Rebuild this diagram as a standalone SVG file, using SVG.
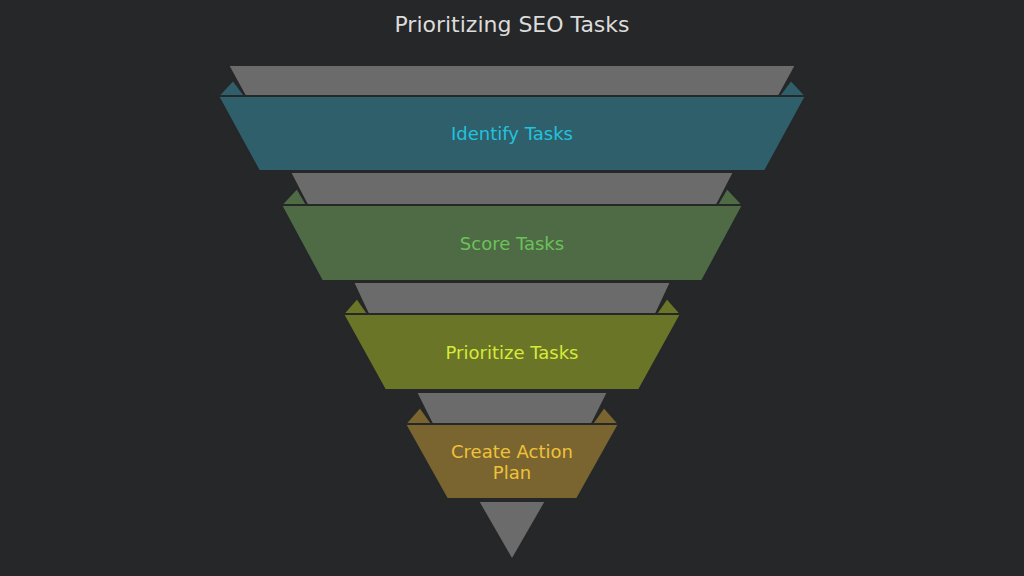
<svg xmlns="http://www.w3.org/2000/svg" width="1024" height="576" viewBox="0 0 1024 576">
<style>
.bg{fill:#262728}
.back{fill:#6b6b6b;stroke:#262728;stroke-width:2;stroke-linejoin:round}
.band{stroke:#262728;stroke-width:2;stroke-linejoin:round}
.lbl{font-family:"DejaVu Sans","Liberation Sans",sans-serif;font-size:18px;text-anchor:middle}
.title{font-family:"DejaVu Sans","Liberation Sans",sans-serif;font-size:22px;text-anchor:middle;fill:#dcdcdc}
</style>
<rect class="bg" width="1024" height="576"/>
<text class="title" x="512" y="32">Prioritizing SEO Tasks</text>
<g id="node1">
<polygon class="back" points="228,65 796,65 779,96 245,96"/>
<polygon class="band" fill="#2f5f6a" points="218,96 233,80 245,96"/>
<polygon class="band" fill="#2f5f6a" points="806,96 791,80 779,96"/>
<polygon class="band" fill="#2f5f6a" points="218,96 806,96 765,171 259,171"/>
<text class="lbl" x="512" y="140" fill="#22c3de">Identify Tasks</text>
</g>
<g id="node2">
<polygon class="back" points="290,172 734,172 717,205 307,205"/>
<polygon class="band" fill="#4e6b45" points="281,205 297,188 307,205"/>
<polygon class="band" fill="#4e6b45" points="743,205 727,188 717,205"/>
<polygon class="band" fill="#4e6b45" points="281,205 743,205 702,281 322,281"/>
<text class="lbl" x="512" y="250" fill="#6cc25a">Score Tasks</text>
</g>
<g id="node3">
<polygon class="back" points="353,282 671,282 656,314 368,314"/>
<polygon class="band" fill="#6b7527" points="343,314 357,298 368,314"/>
<polygon class="band" fill="#6b7527" points="681,314 667,298 656,314"/>
<polygon class="band" fill="#6b7527" points="343,314 681,314 639,390 385,390"/>
<text class="lbl" x="512" y="359" fill="#d6ea3a">Prioritize Tasks</text>
</g>
<g id="node4">
<polygon class="back" points="416,392 608,392 592,424 432,424"/>
<polygon class="band" fill="#7a6530" points="405,424 420,407 432,424"/>
<polygon class="band" fill="#7a6530" points="619,424 604,407 592,424"/>
<polygon class="band" fill="#7a6530" points="405,424 619,424 577,499 447,499"/>
<text class="lbl" x="512" y="458" fill="#f0c23a">Create Action</text>
<text class="lbl" x="512" y="479" fill="#f0c23a">Plan</text>
</g>
<g id="connectors">
<polygon class="back" points="478,501 546,501 512,560"/>
</g>
</svg>
